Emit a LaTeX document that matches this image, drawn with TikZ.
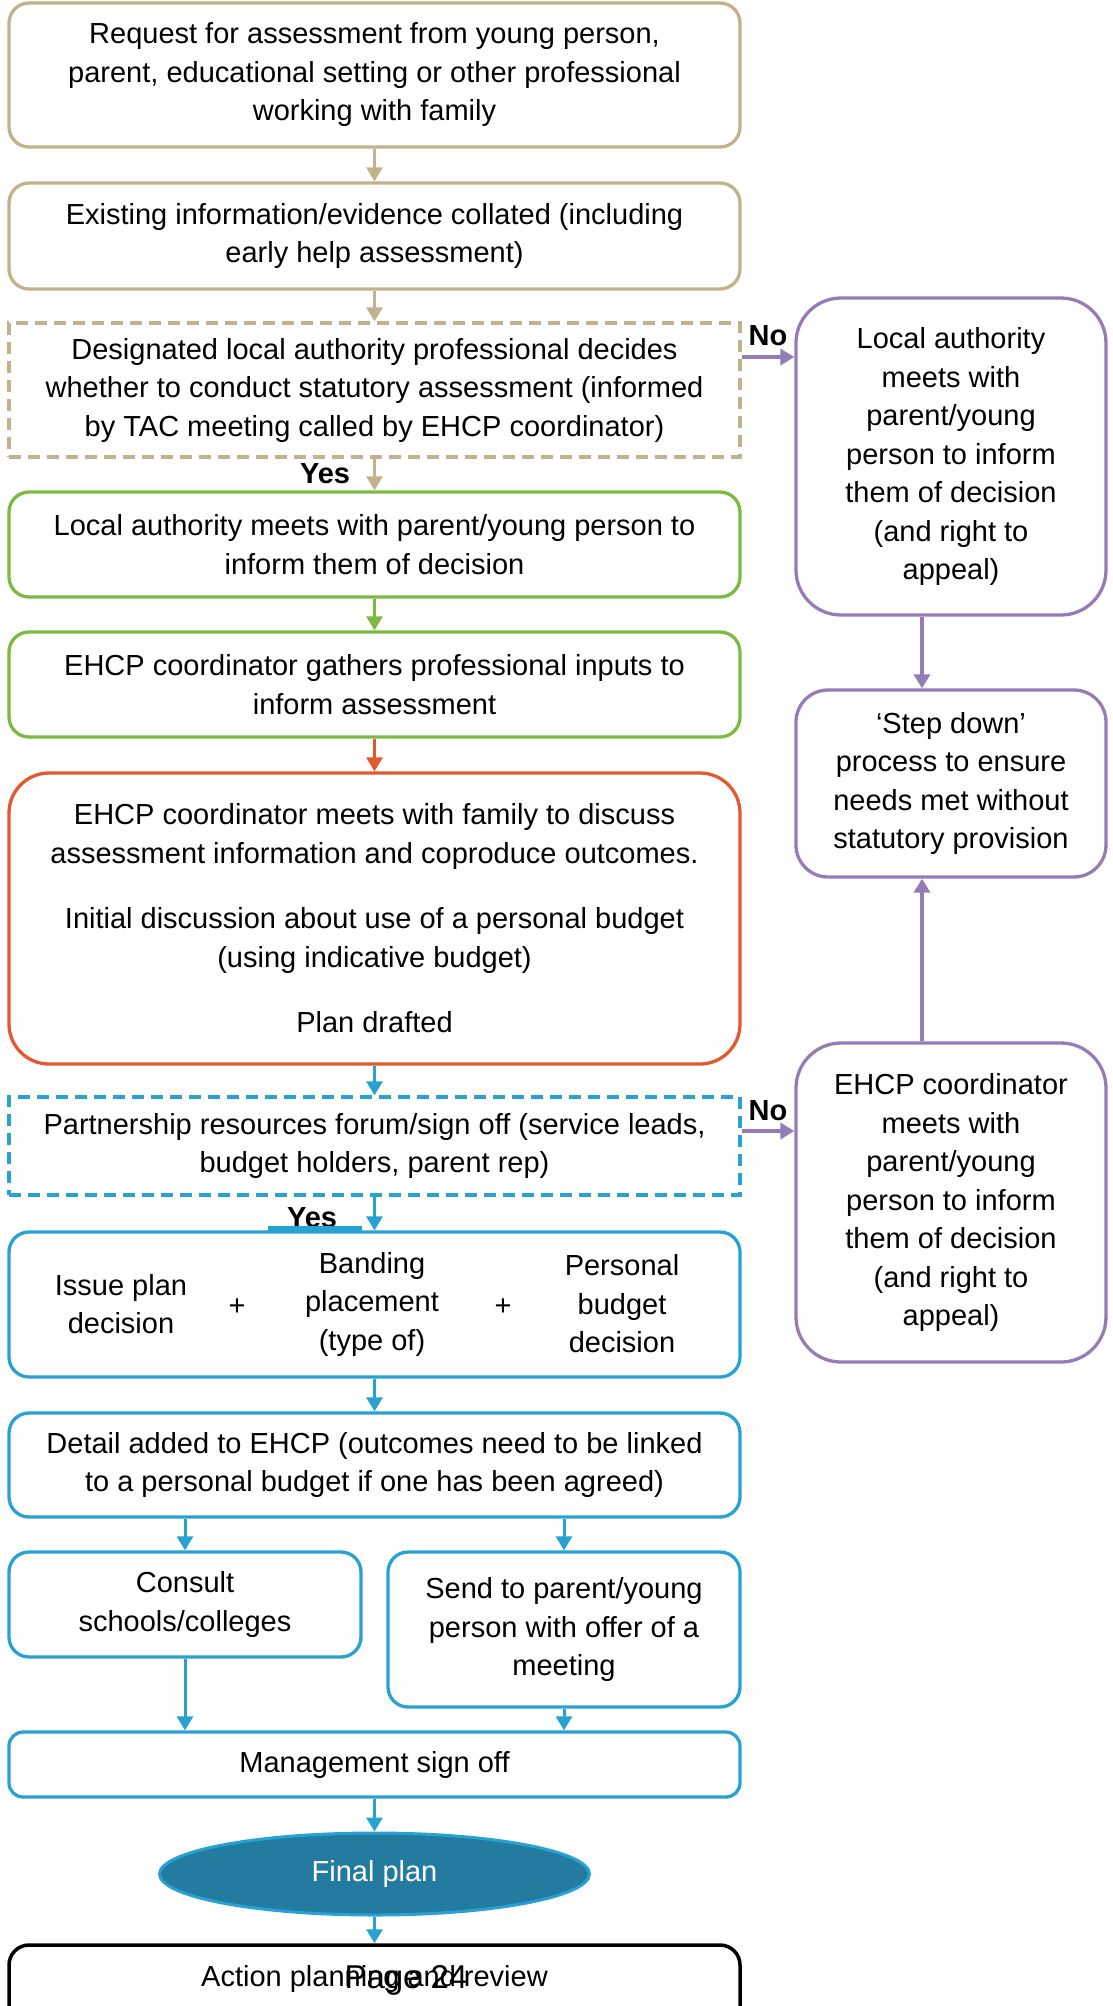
\documentclass[tikz,border=0pt]{standalone}
\usepackage{fontspec}
\setmainfont{Liberation Sans}
\usetikzlibrary{arrows.meta,shapes.geometric}
\definecolor{tanline}{RGB}{194,178,140}
\definecolor{greenline}{RGB}{124,186,66}
\definecolor{redline}{RGB}{228,88,46}
\definecolor{blueline}{RGB}{40,162,210}
\definecolor{purpleline}{RGB}{150,124,182}
\definecolor{planfill}{RGB}{36,123,160}
\newcommand{\boxfont}{\fontsize{29}{38.5}\selectfont}
\tikzset{
	stage/.style={draw, rounded corners=20pt, line width=3.3pt, inner sep=0pt, align=center, font=\boxfont, minimum width=731pt},
	sidebox/.style={stage, rounded corners=45pt, minimum width=310pt, draw=purpleline},
	dashbox/.style={stage, rounded corners=0pt, dash pattern=on 12pt off 7pt},
	flow/.style={line width=3pt, -{Triangle[width=16pt,length=14pt]}},
	answer/.style={font=\boxfont\bfseries, inner sep=0pt, anchor=base},
	inbox/.style={font=\boxfont, align=center, inner sep=0pt},
}

\begin{document}
\begin{tikzpicture}[x=1pt,y=-1pt]
			%%%%% START %%%%%
			\useasboundingbox (0,0) rectangle (1112,2006);
			\clip (0,0) rectangle (1112,2006);
			
			% main column
			\node[stage, draw=tanline, minimum height=144pt] (request) at (374.5,75) {Request for assessment from young person,\\parent, educational setting or other professional\\working with family};
			\node[stage, draw=tanline, minimum height=106pt] (evidence) at (374.5,236) {Existing information/evidence collated (including\\early help assessment)};
			\node[dashbox, draw=tanline, minimum height=134pt] (decide) at (374.5,390) {Designated local authority professional decides\\whether to conduct statutory assessment (informed\\by TAC meeting called by EHCP coordinator)};
			\node[stage, draw=greenline, minimum height=105pt] (meetla) at (374.5,544.5) {Local authority meets with parent/young person to\\inform them of decision};
			\node[stage, draw=greenline, minimum height=105pt] (inputs) at (374.5,684.5) {EHCP coordinator gathers professional inputs to\\inform assessment};
			\node[stage, draw=redline, rounded corners=40pt, minimum height=291pt] (family) at (374.5,918.5) {EHCP coordinator meets with family to discuss\\assessment information and coproduce outcomes.\\[27pt]Initial discussion about use of a personal budget\\(using indicative budget)\\[27pt]Plan drafted};
			\node[dashbox, draw=blueline, minimum height=98pt] (forum) at (374.5,1146) {Partnership resources forum/sign off (service leads,\\budget holders, parent rep)};
			
			\node[stage, draw=blueline, minimum height=145pt] (issue) at (374.5,1304.5) {};
			\node[inbox] (plandec) at (121,1304) {Issue plan\\decision};
			\node[inbox] (plusa) at (237,1307) {+};
			\node[inbox] (banding) at (372,1304) {Banding\\placement\\(type of)};
			\node[inbox] (plusb) at (503,1307) {+};
			\node[inbox] (budgetdec) at (622,1304) {Personal\\budget\\decision};
			
			\node[stage, draw=blueline, minimum height=104pt] (detail) at (374.5,1465) {Detail added to EHCP (outcomes need to be linked\\to a personal budget if one has been agreed)};
			\node[stage, draw=blueline, minimum width=352pt, minimum height=105pt] (consult) at (185,1604.5) {Consult\\schools/colleges};
			\node[stage, draw=blueline, minimum width=352pt, minimum height=155pt] (send) at (564,1629.5) {Send to parent/young\\person with offer of a\\meeting};
			\node[stage, draw=blueline, rounded corners=14pt, minimum height=65pt] (signoff) at (374.5,1764.5) {Management sign off};
			\node[ellipse, draw=blueline, fill=planfill, line width=3pt, minimum width=430pt, minimum height=82pt, text=white, font=\boxfont] (final) at (374.5,1874) {Final plan};
			\node[stage, draw=black, line width=3.5pt, anchor=base, text height=41pt, text depth=60pt] (review) at (374.5,1986) {Action planning and review};
			\node[font=\fontsize{33}{40}\selectfont, inner sep=0pt, anchor=base] (pagenum) at (406,1988) {Page 24};
			
			% side column
			\node[sidebox, minimum height=317pt] (informno) at (951,456.5) {Local authority\\meets with\\parent/young\\person to inform\\them of decision\\(and right to\\appeal)};
			\node[sidebox, rounded corners=32pt, minimum height=187pt] (stepdown) at (951,783.5) {‘Step down’\\process to ensure\\needs met without\\statutory provision};
			\node[sidebox, minimum height=319pt] (appealno) at (951,1202.5) {EHCP coordinator\\meets with\\parent/young\\person to inform\\them of decision\\(and right to\\appeal)};
			
			% arrows
			\draw[flow, tanline] (request.south) -- (evidence.north);
			\draw[flow, tanline] (evidence.south) -- (decide.north);
			\draw[flow, tanline] (decide.south) -- (meetla.north);
			\node[answer] (yesa) at (325,483) {Yes};
			\draw[flow, purpleline, line width=4pt] ([yshift=33pt]decide.east) -- ([yshift=33pt]decide.east -| informno.west);
			\node[answer] (noa) at (768,345) {No};
			\draw[flow, purpleline, line width=4pt] ([xshift=-29pt]informno.south) -- ([xshift=-29pt]stepdown.north);
			\draw[flow, purpleline, line width=4pt] ([xshift=-29pt]appealno.north) -- ([xshift=-29pt]stepdown.south);
			
			\draw[flow, greenline] (meetla.south) -- (inputs.north);
			\draw[flow, redline] (inputs.south) -- (family.north);
			\draw[flow, blueline] (family.south) -- (forum.north);
			\draw[flow, purpleline, line width=4pt] ([yshift=15pt]forum.east) -- ([yshift=15pt]forum.east -| appealno.west);
			\node[answer] (nob) at (768,1120) {No};
			\draw[flow, blueline] (forum.south) -- (issue.north);
			\node[answer] (yesb) at (312,1227) {Yes};
			\draw[blueline, line width=4.5pt] ([xshift=-107pt,yshift=2pt]issue.north) -- ([xshift=-13pt,yshift=2pt]issue.north);
			
			\draw[flow, blueline] (issue.south) -- (detail.north);
			\draw[flow, blueline] (consult.north |- detail.south) -- (consult.north);
			\draw[flow, blueline] (send.north |- detail.south) -- (send.north);
			\draw[flow, blueline] (consult.south) -- (consult.south |- signoff.north);
			\draw[flow, blueline] (send.south) -- (send.south |- signoff.north);
			\draw[flow, blueline] (signoff.south) -- (final.north);
			\draw[flow, blueline] (final.south) -- (review.north);
			
			%%%%% END %%%%%
\end{tikzpicture}
\end{document}
